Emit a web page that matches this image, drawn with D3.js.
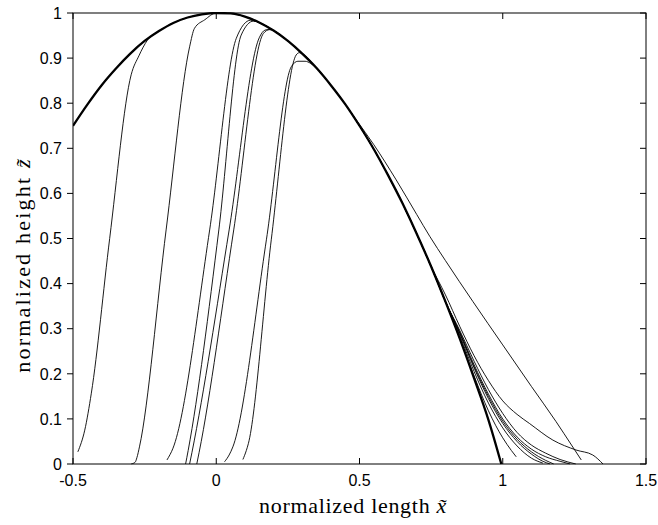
<!DOCTYPE html>
<html><head><meta charset="utf-8">
<script src="https://cdn.jsdelivr.net/npm/d3@7"></script>
<style>
html,body{margin:0;padding:0;background:#fff;}
svg{display:block;}
</style></head>
<body>
<svg id="chart" width="658" height="525"></svg>
<script>
// ---------- data ----------
const xTicks = [-0.5, 0, 0.5, 1, 1.5];
const xTickLabels = ["-0.5", "0", "0.5", "1", "1.5"];
const yTicks = [0, 0.1, 0.2, 0.3, 0.4, 0.5, 0.6, 0.7, 0.8, 0.9, 1];
const yTickLabels = ["0", "0.1", "0.2", "0.3", "0.4", "0.5", "0.6", "0.7", "0.8", "0.9", "1"];

// reference profile (thick line)
const profileX = [-0.5,-0.45,-0.4,-0.35,-0.3,-0.25,-0.2,-0.15,-0.1,-0.05,0,0.05,0.1,0.15,0.2,0.25,0.3,0.35,0.4,0.45,0.5,0.55,0.6,0.65,0.7,0.75,0.8,0.85,0.9,0.95,0.995];
const profileZ = [0.75,0.797,0.84,0.877,0.91,0.938,0.96,0.978,0.99,0.997,1.0,0.999,0.992,0.979,0.961,0.938,0.91,0.878,0.84,0.798,0.75,0.698,0.64,0.578,0.51,0.438,0.36,0.278,0.19,0.098,0.0];

// measured profiles: rising fronts
const riseA = [[-0.483,0.027],[-0.459,0.075],[-0.436,0.157],[-0.372,0.5],[-0.297,0.863],[-0.27,0.905],[-0.24,0.94]];
const riseB = [[-0.297,0.0],[-0.283,0.004],[-0.277,0.014],[-0.268,0.038],[-0.175,0.519],[-0.093,0.925],[-0.076,0.966],[-0.04,0.985]];
const riseC = [[-0.172,0.009],[-0.151,0.035],[-0.023,0.519],[0.07,0.944],[0.12,0.984]];
const riseD = [[-0.107,0.0],[-0.098,0.03],[0.009,0.519],[0.087,0.951],[0.13,0.982]];
const riseE = [[-0.093,0.0],[-0.085,0.025],[0.045,0.519],[0.15,0.945],[0.17,0.962],[0.19,0.964]];
const riseF = [[-0.068,0.0],[-0.06,0.025],[0.061,0.519],[0.165,0.955],[0.186,0.963]];
const riseG = [[0.029,0.005],[0.045,0.02],[0.058,0.038],[0.175,0.497],[0.262,0.881],[0.285,0.893],[0.31,0.893],[0.33,0.888]];
const riseH = [[0.093,0.01],[0.105,0.03],[0.112,0.045],[0.192,0.497],[0.279,0.907],[0.29,0.912]];

// measured profiles: trailing tails
const tailA = [[0.8,0.375],[0.85,0.305],[0.9,0.24],[0.95,0.185],[1.0,0.14],[1.05,0.11],[1.093,0.09],[1.175,0.053],[1.256,0.031],[1.314,0.02],[1.35,0.0]];
const tailB = [[0.49,0.762],[0.55,0.708],[0.628,0.63],[0.7,0.553],[0.745,0.505],[0.8,0.451],[0.896,0.36],[1.0,0.264],[1.1,0.172],[1.186,0.094],[1.24,0.042],[1.274,0.009]];
const tailC = [[0.9,0.195],[0.95,0.118],[1.0,0.058],[1.03,0.03],[1.047,0.016]];
const tailD = [[0.85,0.285],[0.9,0.205],[0.95,0.135],[1.0,0.08],[1.05,0.04],[1.1,0.013],[1.14,0.002]];
const tailE = [[0.85,0.29],[0.9,0.213],[0.95,0.145],[1.0,0.09],[1.05,0.05],[1.1,0.022],[1.14,0.006],[1.165,0.0]];
const tailF = [[0.85,0.293],[0.9,0.22],[0.95,0.155],[1.0,0.1],[1.05,0.06],[1.1,0.033],[1.15,0.016],[1.2,0.006],[1.235,0.0]];
const tailG = [[0.85,0.296],[0.9,0.228],[0.95,0.165],[1.0,0.112],[1.05,0.07],[1.1,0.042],[1.15,0.024],[1.2,0.01],[1.255,0.0]];
const tailH = [[0.85,0.29],[0.9,0.216],[0.95,0.15],[1.0,0.095],[1.05,0.055],[1.1,0.027],[1.15,0.008],[1.178,0.0]];

const rises = [riseA, riseB, riseC, riseD, riseE, riseF, riseG, riseH];
const tails = [tailA, tailB, tailC, tailD, tailE, tailF, tailG, tailH];

// ---------- layout ----------
const W = 658, H = 525;
const margin = {left: 73, right: 12, top: 13, bottom: 61};
const svg = d3.select("#chart");
const x = d3.scaleLinear().domain([-0.5, 1.5]).range([margin.left, W - margin.right]);
const y = d3.scaleLinear().domain([0, 1]).range([H - margin.bottom, margin.top]);

const profile = profileX.map((v, i) => [v, profileZ[i]]);

svg.append("defs").append("clipPath").attr("id", "plotclip")
  .append("rect").attr("x", x(-0.5)).attr("y", y(1) - 1)
  .attr("width", x(1.5) - x(-0.5)).attr("height", y(0) - y(1) + 1.5);

const line = d3.line().x(d => x(d[0])).y(d => y(d[1])).curve(d3.curveMonotoneX);
const g = svg.append("g").attr("clip-path", "url(#plotclip)");

rises.forEach((r, i) => {
  const t = tails[i];
  const x0 = r[r.length - 1][0], x1 = t[0][0];
  const mid = profile.filter(p => p[0] > x0 + 0.005 && p[0] < x1 - 0.005);
  const pts = r.concat(mid, t);
  g.append("path").attr("d", line(pts)).attr("fill", "none")
    .attr("stroke", "#000").attr("stroke-width", 0.9);
});

g.append("path").attr("d", line(profile)).attr("fill", "none")
  .attr("stroke", "#000").attr("stroke-width", 2.3).attr("stroke-linejoin", "round");

// ---------- axes ----------
const font = "'Liberation Sans', Arial, Helvetica, sans-serif";
const tl = 6;
svg.append("rect").attr("x", x(-0.5)).attr("y", y(1))
  .attr("width", x(1.5) - x(-0.5)).attr("height", y(0) - y(1))
  .attr("fill", "none").attr("stroke", "#000").attr("stroke-width", 1);

xTicks.forEach((v, i) => {
  svg.append("line").attr("x1", x(v)).attr("x2", x(v)).attr("y1", y(0)).attr("y2", y(0) - tl)
    .attr("stroke", "#000").attr("stroke-width", 1);
  svg.append("line").attr("x1", x(v)).attr("x2", x(v)).attr("y1", y(1)).attr("y2", y(1) + tl)
    .attr("stroke", "#000").attr("stroke-width", 1);
  svg.append("text").attr("x", x(v)).attr("y", y(0) + 22)
    .attr("text-anchor", "middle").attr("font-family", font).attr("font-size", 16)
    .text(xTickLabels[i]);
});
yTicks.forEach((v, i) => {
  svg.append("line").attr("x1", x(-0.5) - tl).attr("x2", x(-0.5)).attr("y1", y(v)).attr("y2", y(v))
    .attr("stroke", "#000").attr("stroke-width", 1);
  svg.append("line").attr("x1", x(1.5) - tl).attr("x2", x(1.5)).attr("y1", y(v)).attr("y2", y(v))
    .attr("stroke", "#000").attr("stroke-width", 1);
  svg.append("text").attr("x", x(-0.5) - 11).attr("y", y(v)).attr("dy", "0.36em")
    .attr("text-anchor", "end").attr("font-family", font).attr("font-size", 16)
    .text(yTickLabels[i]);
});

// axis titles
const serif = "'Liberation Serif', 'DejaVu Serif', serif";
const xl = svg.append("text").attr("x", 353).attr("y", 513)
  .attr("text-anchor", "middle").attr("font-family", serif).attr("font-size", 22)
  .attr("letter-spacing", "0.7px");
xl.append("tspan").text("normalized length ");
xl.append("tspan").attr("font-style", "italic").text("x\u0303");

const yl = svg.append("text").attr("transform", "translate(30,265) rotate(-90)")
  .attr("text-anchor", "middle").attr("font-family", serif).attr("font-size", 22)
  .attr("letter-spacing", "2.2px");
yl.append("tspan").text("normalized height ");
yl.append("tspan").attr("font-style", "italic").text("z\u0303");
</script>
</body></html>
